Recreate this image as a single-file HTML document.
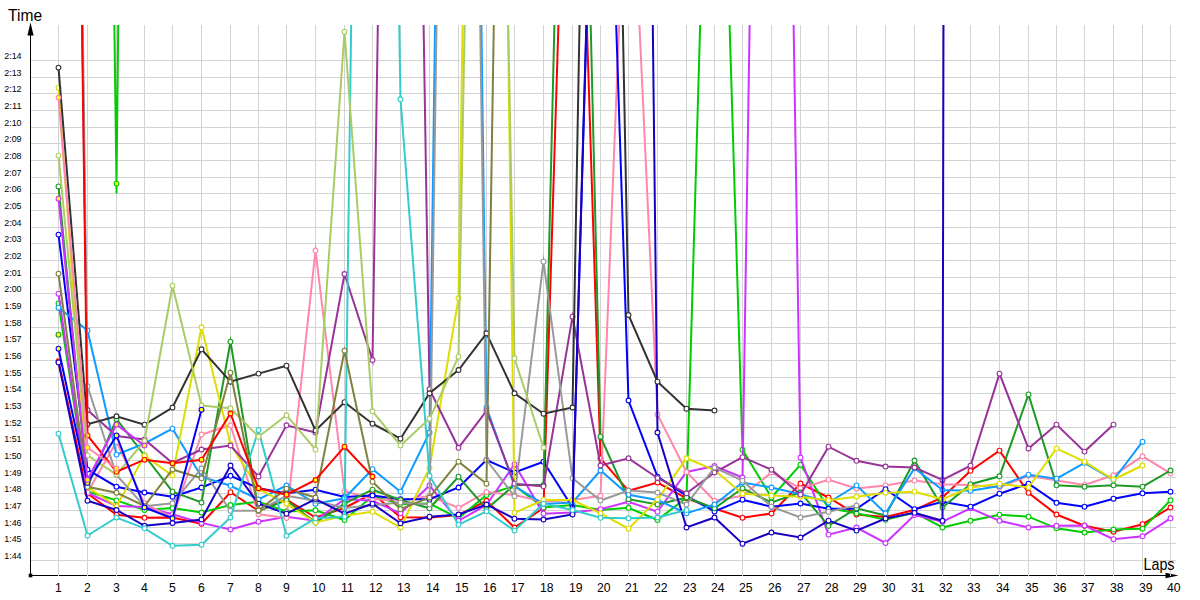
<!DOCTYPE html>
<html lang="en"><head><meta charset="utf-8"><title>Lap times</title>
<style>html,body{margin:0;padding:0;background:#fff;}body{width:1200px;height:600px;overflow:hidden;}svg{display:block;}text{font-family:"Liberation Sans","DejaVu Sans",sans-serif;fill:#000;}</style></head><body>
<svg width="1200" height="600" viewBox="0 0 1200 600">
<rect width="1200" height="600" fill="#fff"/>
<path d="M30.5 30.0V575.5" stroke="#000" stroke-width="1.0" fill="none"/>
<path d="M30.0 575.5H1170.0" stroke="#000" stroke-width="1.0" fill="none"/>
<path d="M30.5 22.6L33.6 35.6H27.4Z" fill="#000"/>
<path d="M1178.5 575.5L1165.5 578.2V572.8Z" fill="#000"/>
<rect x="28.7" y="573.7" width="3.6" height="3.6" fill="#000"/>
<path d="M58.50 25.0V576.0M87.50 25.0V576.0M116.50 25.0V576.0M144.50 25.0V576.0M172.50 25.0V576.0M201.50 25.0V576.0M230.50 25.0V576.0M258.50 25.0V576.0M286.50 25.0V576.0M315.50 25.0V576.0M344.50 25.0V576.0M372.50 25.0V576.0M400.50 25.0V576.0M429.50 25.0V576.0M458.50 25.0V576.0M486.50 25.0V576.0M514.50 25.0V576.0M543.50 25.0V576.0M572.50 25.0V576.0M600.50 25.0V576.0M628.50 25.0V576.0M657.50 25.0V576.0M686.50 25.0V576.0M714.50 25.0V576.0M742.50 25.0V576.0M771.50 25.0V576.0M800.50 25.0V576.0M828.50 25.0V576.0M856.50 25.0V576.0M885.50 25.0V576.0M914.50 25.0V576.0M942.50 25.0V576.0M970.50 25.0V576.0M999.50 25.0V576.0M1028.50 25.0V576.0M1056.50 25.0V576.0M1084.50 25.0V576.0M1113.50 25.0V576.0M1142.50 25.0V576.0M1170.50 25.0V576.0M31.0 60.5H1176.0M31.0 77.5H1176.0M31.0 93.5H1176.0M31.0 110.5H1176.0M31.0 127.5H1176.0M31.0 143.5H1176.0M31.0 160.5H1176.0M31.0 177.5H1176.0M31.0 193.5H1176.0M31.0 210.5H1176.0M31.0 227.5H1176.0M31.0 243.5H1176.0M31.0 260.5H1176.0M31.0 277.5H1176.0M31.0 293.5H1176.0M31.0 310.5H1176.0M31.0 327.5H1176.0M31.0 343.5H1176.0M31.0 360.5H1176.0M31.0 377.5H1176.0M31.0 393.5H1176.0M31.0 410.5H1176.0M31.0 427.5H1176.0M31.0 443.5H1176.0M31.0 460.5H1176.0M31.0 477.5H1176.0M31.0 493.5H1176.0M31.0 510.5H1176.0M31.0 527.5H1176.0M31.0 543.5H1176.0M31.0 560.5H1176.0" stroke="#d3d3d3" stroke-width="1" fill="none"/>
<defs><clipPath id="c"><rect x="30.0" y="25.0" width="1150.0" height="550.5"/></clipPath></defs>
<g clip-path="url(#c)" fill="none" stroke-linejoin="miter" stroke-miterlimit="10" stroke-linecap="butt">
<g stroke="#ff0000">
<polyline points="58.5,361.3 87.5,493.5 116.5,514.7 144.5,517.8 172.5,517.5 201.5,523.8 230.5,492.2 258.5,510.8 286.5,499.5 315.5,517.5 344.5,508.0 372.5,493.5 400.5,517.2 429.5,517.5 458.5,515.0 486.5,500.8 514.5,527.5 543.5,508.0 572.5,-430.0 600.5,458.3 628.5,490.8 657.5,482.5 686.5,498.3 714.5,508.5 742.5,517.7 771.5,513.5 800.5,483.5 828.5,497.5 856.5,514.5 885.5,517.0 914.5,510.0 942.5,497.5 970.5,470.8 999.5,450.6 1028.5,492.8 1056.5,514.5 1084.5,525.8 1113.5,531.7 1142.5,524.2 1170.5,507.5" stroke-width="2.0"/>
<g fill="#ffffff" stroke-width="1.1"><circle cx="58.5" cy="361.3" r="2.4"/><circle cx="87.5" cy="493.5" r="2.4"/><circle cx="116.5" cy="514.7" r="2.4"/><circle cx="144.5" cy="517.8" r="2.4"/><circle cx="172.5" cy="517.5" r="2.4"/><circle cx="201.5" cy="523.8" r="2.4"/><circle cx="230.5" cy="492.2" r="2.4"/><circle cx="258.5" cy="510.8" r="2.4"/><circle cx="286.5" cy="499.5" r="2.4"/><circle cx="315.5" cy="517.5" r="2.4"/><circle cx="344.5" cy="508.0" r="2.4"/><circle cx="372.5" cy="493.5" r="2.4"/><circle cx="400.5" cy="517.2" r="2.4"/><circle cx="429.5" cy="517.5" r="2.4"/><circle cx="458.5" cy="515.0" r="2.4"/><circle cx="486.5" cy="500.8" r="2.4"/><circle cx="514.5" cy="527.5" r="2.4"/><circle cx="543.5" cy="508.0" r="2.4"/><circle cx="600.5" cy="458.3" r="2.4"/><circle cx="628.5" cy="490.8" r="2.4"/><circle cx="657.5" cy="482.5" r="2.4"/><circle cx="686.5" cy="498.3" r="2.4"/><circle cx="714.5" cy="508.5" r="2.4"/><circle cx="742.5" cy="517.7" r="2.4"/><circle cx="771.5" cy="513.5" r="2.4"/><circle cx="800.5" cy="483.5" r="2.4"/><circle cx="828.5" cy="497.5" r="2.4"/><circle cx="856.5" cy="514.5" r="2.4"/><circle cx="885.5" cy="517.0" r="2.4"/><circle cx="914.5" cy="510.0" r="2.4"/><circle cx="942.5" cy="497.5" r="2.4"/><circle cx="970.5" cy="470.8" r="2.4"/><circle cx="999.5" cy="450.6" r="2.4"/><circle cx="1028.5" cy="492.8" r="2.4"/><circle cx="1056.5" cy="514.5" r="2.4"/><circle cx="1084.5" cy="525.8" r="2.4"/><circle cx="1113.5" cy="531.7" r="2.4"/><circle cx="1142.5" cy="524.2" r="2.4"/><circle cx="1170.5" cy="507.5" r="2.4"/></g>
</g>
<g stroke="#00cc00">
<polyline points="58.5,303.4 87.5,491.5 116.5,500.4 144.5,510.0 172.5,508.0 201.5,512.5 230.5,505.0 258.5,501.7 286.5,511.5 315.5,510.3 344.5,520.0 372.5,496.0 400.5,504.0 429.5,503.5 458.5,518.3 486.5,495.0 514.5,485.8 543.5,507.5 572.5,505.0 600.5,510.0 628.5,507.8 657.5,520.0 686.5,497.5 714.5,-472.0 742.5,449.7 771.5,497.5 800.5,464.7 828.5,508.0 856.5,513.3 885.5,519.8 914.5,512.5 942.5,527.5 970.5,520.8 999.5,514.7 1028.5,516.7 1056.5,528.3 1084.5,532.5 1113.5,529.5 1142.5,528.7 1170.5,500.3" stroke-width="2.0"/>
<g fill="#ffffff" stroke-width="1.1"><circle cx="58.5" cy="303.4" r="2.4"/><circle cx="87.5" cy="491.5" r="2.4"/><circle cx="116.5" cy="500.4" r="2.4"/><circle cx="144.5" cy="510.0" r="2.4"/><circle cx="172.5" cy="508.0" r="2.4"/><circle cx="201.5" cy="512.5" r="2.4"/><circle cx="230.5" cy="505.0" r="2.4"/><circle cx="258.5" cy="501.7" r="2.4"/><circle cx="286.5" cy="511.5" r="2.4"/><circle cx="315.5" cy="510.3" r="2.4"/><circle cx="344.5" cy="520.0" r="2.4"/><circle cx="372.5" cy="496.0" r="2.4"/><circle cx="400.5" cy="504.0" r="2.4"/><circle cx="429.5" cy="503.5" r="2.4"/><circle cx="458.5" cy="518.3" r="2.4"/><circle cx="486.5" cy="495.0" r="2.4"/><circle cx="514.5" cy="485.8" r="2.4"/><circle cx="543.5" cy="507.5" r="2.4"/><circle cx="572.5" cy="505.0" r="2.4"/><circle cx="600.5" cy="510.0" r="2.4"/><circle cx="628.5" cy="507.8" r="2.4"/><circle cx="657.5" cy="520.0" r="2.4"/><circle cx="686.5" cy="497.5" r="2.4"/><circle cx="742.5" cy="449.7" r="2.4"/><circle cx="771.5" cy="497.5" r="2.4"/><circle cx="800.5" cy="464.7" r="2.4"/><circle cx="828.5" cy="508.0" r="2.4"/><circle cx="856.5" cy="513.3" r="2.4"/><circle cx="885.5" cy="519.8" r="2.4"/><circle cx="914.5" cy="512.5" r="2.4"/><circle cx="942.5" cy="527.5" r="2.4"/><circle cx="970.5" cy="520.8" r="2.4"/><circle cx="999.5" cy="514.7" r="2.4"/><circle cx="1028.5" cy="516.7" r="2.4"/><circle cx="1056.5" cy="528.3" r="2.4"/><circle cx="1084.5" cy="532.5" r="2.4"/><circle cx="1113.5" cy="529.5" r="2.4"/><circle cx="1142.5" cy="528.7" r="2.4"/><circle cx="1170.5" cy="500.3" r="2.4"/></g>
</g>
<g stroke="#cc33ff">
<polyline points="58.5,293.7 87.5,493.0 116.5,506.0 144.5,507.0 172.5,514.2 201.5,522.9 230.5,529.5 258.5,521.7 286.5,516.7 315.5,520.8 344.5,499.0 372.5,500.8 400.5,513.3 429.5,485.5 458.5,520.8 486.5,505.0 514.5,464.2 543.5,513.7 572.5,512.5 600.5,509.2 628.5,501.7 657.5,511.7 686.5,472.0 714.5,466.0 742.5,477.5 771.5,-1365.0 800.5,457.5 828.5,534.6 856.5,527.5 885.5,543.0 914.5,515.0 942.5,521.7 970.5,508.3 999.5,520.8 1028.5,527.5 1056.5,525.8 1084.5,525.5 1113.5,539.2 1142.5,536.3 1170.5,518.3" stroke-width="2.0"/>
<g fill="#ffffff" stroke-width="1.1"><circle cx="58.5" cy="293.7" r="2.4"/><circle cx="87.5" cy="493.0" r="2.4"/><circle cx="116.5" cy="506.0" r="2.4"/><circle cx="144.5" cy="507.0" r="2.4"/><circle cx="172.5" cy="514.2" r="2.4"/><circle cx="201.5" cy="522.9" r="2.4"/><circle cx="230.5" cy="529.5" r="2.4"/><circle cx="258.5" cy="521.7" r="2.4"/><circle cx="286.5" cy="516.7" r="2.4"/><circle cx="315.5" cy="520.8" r="2.4"/><circle cx="344.5" cy="499.0" r="2.4"/><circle cx="372.5" cy="500.8" r="2.4"/><circle cx="400.5" cy="513.3" r="2.4"/><circle cx="429.5" cy="485.5" r="2.4"/><circle cx="458.5" cy="520.8" r="2.4"/><circle cx="486.5" cy="505.0" r="2.4"/><circle cx="514.5" cy="464.2" r="2.4"/><circle cx="543.5" cy="513.7" r="2.4"/><circle cx="572.5" cy="512.5" r="2.4"/><circle cx="600.5" cy="509.2" r="2.4"/><circle cx="628.5" cy="501.7" r="2.4"/><circle cx="657.5" cy="511.7" r="2.4"/><circle cx="686.5" cy="472.0" r="2.4"/><circle cx="714.5" cy="466.0" r="2.4"/><circle cx="742.5" cy="477.5" r="2.4"/><circle cx="800.5" cy="457.5" r="2.4"/><circle cx="828.5" cy="534.6" r="2.4"/><circle cx="856.5" cy="527.5" r="2.4"/><circle cx="885.5" cy="543.0" r="2.4"/><circle cx="914.5" cy="515.0" r="2.4"/><circle cx="942.5" cy="521.7" r="2.4"/><circle cx="970.5" cy="508.3" r="2.4"/><circle cx="999.5" cy="520.8" r="2.4"/><circle cx="1028.5" cy="527.5" r="2.4"/><circle cx="1056.5" cy="525.8" r="2.4"/><circle cx="1084.5" cy="525.5" r="2.4"/><circle cx="1113.5" cy="539.2" r="2.4"/><circle cx="1142.5" cy="536.3" r="2.4"/><circle cx="1170.5" cy="518.3" r="2.4"/></g>
</g>
<g stroke="#ff88aa">
<polyline points="87.5,492.5 116.5,441.7 144.5,503.3 172.5,518.0 201.5,434.5 230.5,425.3 258.5,514.2 286.5,518.0 315.5,250.5 344.5,491.3 372.5,499.0 400.5,500.8 429.5,495.8 458.5,507.8 486.5,492.0 514.5,495.0 543.5,501.7 572.5,500.0 600.5,495.8 628.5,-211.0 657.5,414.5 686.5,472.0 714.5,500.8 742.5,495.8 771.5,472.5 800.5,488.3 828.5,479.7 856.5,488.5 885.5,485.4 914.5,480.5 942.5,484.2 970.5,485.0 999.5,487.5 1028.5,475.8 1056.5,480.5 1084.5,485.0 1113.5,475.3 1142.5,456.3 1170.5,473.3" stroke-width="2.0"/>
<g fill="#ffffff" stroke-width="1.1"><circle cx="87.5" cy="492.5" r="2.4"/><circle cx="116.5" cy="441.7" r="2.4"/><circle cx="144.5" cy="503.3" r="2.4"/><circle cx="172.5" cy="518.0" r="2.4"/><circle cx="201.5" cy="434.5" r="2.4"/><circle cx="230.5" cy="425.3" r="2.4"/><circle cx="258.5" cy="514.2" r="2.4"/><circle cx="286.5" cy="518.0" r="2.4"/><circle cx="315.5" cy="250.5" r="2.4"/><circle cx="344.5" cy="491.3" r="2.4"/><circle cx="372.5" cy="499.0" r="2.4"/><circle cx="400.5" cy="500.8" r="2.4"/><circle cx="429.5" cy="495.8" r="2.4"/><circle cx="458.5" cy="507.8" r="2.4"/><circle cx="486.5" cy="492.0" r="2.4"/><circle cx="514.5" cy="495.0" r="2.4"/><circle cx="543.5" cy="501.7" r="2.4"/><circle cx="572.5" cy="500.0" r="2.4"/><circle cx="600.5" cy="495.8" r="2.4"/><circle cx="657.5" cy="414.5" r="2.4"/><circle cx="686.5" cy="472.0" r="2.4"/><circle cx="714.5" cy="500.8" r="2.4"/><circle cx="742.5" cy="495.8" r="2.4"/><circle cx="771.5" cy="472.5" r="2.4"/><circle cx="800.5" cy="488.3" r="2.4"/><circle cx="828.5" cy="479.7" r="2.4"/><circle cx="856.5" cy="488.5" r="2.4"/><circle cx="885.5" cy="485.4" r="2.4"/><circle cx="914.5" cy="480.5" r="2.4"/><circle cx="942.5" cy="484.2" r="2.4"/><circle cx="970.5" cy="485.0" r="2.4"/><circle cx="999.5" cy="487.5" r="2.4"/><circle cx="1028.5" cy="475.8" r="2.4"/><circle cx="1056.5" cy="480.5" r="2.4"/><circle cx="1084.5" cy="485.0" r="2.4"/><circle cx="1113.5" cy="475.3" r="2.4"/><circle cx="1142.5" cy="456.3" r="2.4"/><circle cx="1170.5" cy="473.3" r="2.4"/></g>
</g>
<g stroke="#0000ff">
<polyline points="58.5,234.6 87.5,469.6 116.5,486.7 144.5,492.5 172.5,496.7 201.5,487.5 230.5,475.8 258.5,488.3 286.5,493.3 315.5,489.7 344.5,497.0 372.5,495.5 400.5,499.2 429.5,499.2 458.5,487.5 486.5,460.0 514.5,472.5 543.5,461.7 572.5,507.5 600.5,-454.0 628.5,400.5 657.5,476.7 686.5,495.8 714.5,511.5 742.5,499.7 771.5,506.7 800.5,503.5 828.5,508.8 856.5,508.8 885.5,489.2 914.5,509.2 942.5,501.7 970.5,506.7 999.5,493.7 1028.5,483.7 1056.5,502.8 1084.5,506.7 1113.5,498.7 1142.5,493.3 1170.5,491.7" stroke-width="2.0"/>
<g fill="#ffffff" stroke-width="1.1"><circle cx="58.5" cy="234.6" r="2.4"/><circle cx="87.5" cy="469.6" r="2.4"/><circle cx="116.5" cy="486.7" r="2.4"/><circle cx="144.5" cy="492.5" r="2.4"/><circle cx="172.5" cy="496.7" r="2.4"/><circle cx="201.5" cy="487.5" r="2.4"/><circle cx="230.5" cy="475.8" r="2.4"/><circle cx="258.5" cy="488.3" r="2.4"/><circle cx="286.5" cy="493.3" r="2.4"/><circle cx="315.5" cy="489.7" r="2.4"/><circle cx="344.5" cy="497.0" r="2.4"/><circle cx="372.5" cy="495.5" r="2.4"/><circle cx="400.5" cy="499.2" r="2.4"/><circle cx="429.5" cy="499.2" r="2.4"/><circle cx="458.5" cy="487.5" r="2.4"/><circle cx="486.5" cy="460.0" r="2.4"/><circle cx="514.5" cy="472.5" r="2.4"/><circle cx="543.5" cy="461.7" r="2.4"/><circle cx="572.5" cy="507.5" r="2.4"/><circle cx="628.5" cy="400.5" r="2.4"/><circle cx="657.5" cy="476.7" r="2.4"/><circle cx="686.5" cy="495.8" r="2.4"/><circle cx="714.5" cy="511.5" r="2.4"/><circle cx="742.5" cy="499.7" r="2.4"/><circle cx="771.5" cy="506.7" r="2.4"/><circle cx="800.5" cy="503.5" r="2.4"/><circle cx="828.5" cy="508.8" r="2.4"/><circle cx="856.5" cy="508.8" r="2.4"/><circle cx="885.5" cy="489.2" r="2.4"/><circle cx="914.5" cy="509.2" r="2.4"/><circle cx="942.5" cy="501.7" r="2.4"/><circle cx="970.5" cy="506.7" r="2.4"/><circle cx="999.5" cy="493.7" r="2.4"/><circle cx="1028.5" cy="483.7" r="2.4"/><circle cx="1056.5" cy="502.8" r="2.4"/><circle cx="1084.5" cy="506.7" r="2.4"/><circle cx="1113.5" cy="498.7" r="2.4"/><circle cx="1142.5" cy="493.3" r="2.4"/><circle cx="1170.5" cy="491.7" r="2.4"/></g>
</g>
<g stroke="#1c9a24">
<polyline points="58.5,186.4 87.5,487.0 116.5,419.0 144.5,455.5 172.5,491.7 201.5,502.5 230.5,341.7 258.5,510.8 286.5,500.4 315.5,522.5 344.5,503.7 372.5,489.7 400.5,500.0 429.5,508.3 458.5,476.7 486.5,509.0 514.5,485.0 543.5,485.0 572.5,-740.0 600.5,436.7 628.5,499.2 657.5,504.5 686.5,497.5 714.5,508.3 742.5,488.3 771.5,502.5 800.5,492.5 828.5,525.8 856.5,508.3 885.5,515.5 914.5,460.5 942.5,507.5 970.5,484.2 999.5,476.3 1028.5,394.4 1056.5,485.3 1084.5,486.7 1113.5,485.3 1142.5,486.7 1170.5,470.5" stroke-width="2.0"/>
<g fill="#ffffff" stroke-width="1.1"><circle cx="58.5" cy="186.4" r="2.4"/><circle cx="87.5" cy="487.0" r="2.4"/><circle cx="116.5" cy="419.0" r="2.4"/><circle cx="144.5" cy="455.5" r="2.4"/><circle cx="172.5" cy="491.7" r="2.4"/><circle cx="201.5" cy="502.5" r="2.4"/><circle cx="230.5" cy="341.7" r="2.4"/><circle cx="258.5" cy="510.8" r="2.4"/><circle cx="286.5" cy="500.4" r="2.4"/><circle cx="315.5" cy="522.5" r="2.4"/><circle cx="344.5" cy="503.7" r="2.4"/><circle cx="372.5" cy="489.7" r="2.4"/><circle cx="400.5" cy="500.0" r="2.4"/><circle cx="429.5" cy="508.3" r="2.4"/><circle cx="458.5" cy="476.7" r="2.4"/><circle cx="486.5" cy="509.0" r="2.4"/><circle cx="514.5" cy="485.0" r="2.4"/><circle cx="543.5" cy="485.0" r="2.4"/><circle cx="600.5" cy="436.7" r="2.4"/><circle cx="628.5" cy="499.2" r="2.4"/><circle cx="657.5" cy="504.5" r="2.4"/><circle cx="686.5" cy="497.5" r="2.4"/><circle cx="714.5" cy="508.3" r="2.4"/><circle cx="742.5" cy="488.3" r="2.4"/><circle cx="771.5" cy="502.5" r="2.4"/><circle cx="800.5" cy="492.5" r="2.4"/><circle cx="828.5" cy="525.8" r="2.4"/><circle cx="856.5" cy="508.3" r="2.4"/><circle cx="885.5" cy="515.5" r="2.4"/><circle cx="914.5" cy="460.5" r="2.4"/><circle cx="942.5" cy="507.5" r="2.4"/><circle cx="970.5" cy="484.2" r="2.4"/><circle cx="999.5" cy="476.3" r="2.4"/><circle cx="1028.5" cy="394.4" r="2.4"/><circle cx="1056.5" cy="485.3" r="2.4"/><circle cx="1084.5" cy="486.7" r="2.4"/><circle cx="1113.5" cy="485.3" r="2.4"/><circle cx="1142.5" cy="486.7" r="2.4"/><circle cx="1170.5" cy="470.5" r="2.4"/></g>
</g>
<g stroke="#0f9bff">
<polyline points="58.5,307.7 87.5,330.4 116.5,454.6 144.5,443.5 172.5,428.7 201.5,476.7 230.5,485.8 258.5,499.5 286.5,485.5 315.5,503.7 344.5,498.3 372.5,469.2 400.5,491.7 429.5,432.5 458.5,-1700.0 486.5,407.5 514.5,486.0 543.5,504.0 572.5,502.5 600.5,470.5 628.5,494.7 657.5,500.0 686.5,513.3 714.5,504.5 742.5,482.5 771.5,487.5 800.5,494.2 828.5,502.5 856.5,485.4 885.5,513.3 914.5,468.3 942.5,490.0 970.5,490.8 999.5,486.0 1028.5,474.7 1056.5,478.7 1084.5,462.8 1113.5,480.0 1142.5,441.7" stroke-width="2.0"/>
<g fill="#ffffff" stroke-width="1.1"><circle cx="58.5" cy="307.7" r="2.4"/><circle cx="87.5" cy="330.4" r="2.4"/><circle cx="116.5" cy="454.6" r="2.4"/><circle cx="144.5" cy="443.5" r="2.4"/><circle cx="172.5" cy="428.7" r="2.4"/><circle cx="201.5" cy="476.7" r="2.4"/><circle cx="230.5" cy="485.8" r="2.4"/><circle cx="258.5" cy="499.5" r="2.4"/><circle cx="286.5" cy="485.5" r="2.4"/><circle cx="315.5" cy="503.7" r="2.4"/><circle cx="344.5" cy="498.3" r="2.4"/><circle cx="372.5" cy="469.2" r="2.4"/><circle cx="400.5" cy="491.7" r="2.4"/><circle cx="429.5" cy="432.5" r="2.4"/><circle cx="486.5" cy="407.5" r="2.4"/><circle cx="514.5" cy="486.0" r="2.4"/><circle cx="543.5" cy="504.0" r="2.4"/><circle cx="572.5" cy="502.5" r="2.4"/><circle cx="600.5" cy="470.5" r="2.4"/><circle cx="628.5" cy="494.7" r="2.4"/><circle cx="657.5" cy="500.0" r="2.4"/><circle cx="686.5" cy="513.3" r="2.4"/><circle cx="714.5" cy="504.5" r="2.4"/><circle cx="742.5" cy="482.5" r="2.4"/><circle cx="771.5" cy="487.5" r="2.4"/><circle cx="800.5" cy="494.2" r="2.4"/><circle cx="828.5" cy="502.5" r="2.4"/><circle cx="856.5" cy="485.4" r="2.4"/><circle cx="885.5" cy="513.3" r="2.4"/><circle cx="914.5" cy="468.3" r="2.4"/><circle cx="942.5" cy="490.0" r="2.4"/><circle cx="970.5" cy="490.8" r="2.4"/><circle cx="999.5" cy="486.0" r="2.4"/><circle cx="1028.5" cy="474.7" r="2.4"/><circle cx="1056.5" cy="478.7" r="2.4"/><circle cx="1084.5" cy="462.8" r="2.4"/><circle cx="1113.5" cy="480.0" r="2.4"/><circle cx="1142.5" cy="441.7" r="2.4"/></g>
</g>
<g stroke="#dddd00">
<polyline points="58.5,87.7 87.5,487.0 116.5,506.3 144.5,455.8 172.5,475.5 201.5,327.3 230.5,444.0 258.5,489.0 286.5,503.7 315.5,522.5 344.5,515.8 372.5,511.7 400.5,527.5 429.5,468.0 458.5,298.3 486.5,-1580.0 514.5,512.8 543.5,500.0 572.5,500.0 600.5,513.3 628.5,528.7 657.5,499.5 686.5,458.3 714.5,470.0 742.5,493.7 771.5,495.5 800.5,496.7 828.5,500.3 856.5,496.7 885.5,492.7 914.5,491.7 942.5,499.2 970.5,487.5 999.5,483.7 1028.5,487.5 1056.5,448.4 1084.5,461.7 1113.5,479.5 1142.5,465.5" stroke-width="2.0"/>
<g fill="#ffffff" stroke-width="1.1"><circle cx="58.5" cy="87.7" r="2.4"/><circle cx="87.5" cy="487.0" r="2.4"/><circle cx="116.5" cy="506.3" r="2.4"/><circle cx="144.5" cy="455.8" r="2.4"/><circle cx="172.5" cy="475.5" r="2.4"/><circle cx="201.5" cy="327.3" r="2.4"/><circle cx="230.5" cy="444.0" r="2.4"/><circle cx="258.5" cy="489.0" r="2.4"/><circle cx="286.5" cy="503.7" r="2.4"/><circle cx="315.5" cy="522.5" r="2.4"/><circle cx="344.5" cy="515.8" r="2.4"/><circle cx="372.5" cy="511.7" r="2.4"/><circle cx="400.5" cy="527.5" r="2.4"/><circle cx="429.5" cy="468.0" r="2.4"/><circle cx="458.5" cy="298.3" r="2.4"/><circle cx="514.5" cy="512.8" r="2.4"/><circle cx="543.5" cy="500.0" r="2.4"/><circle cx="572.5" cy="500.0" r="2.4"/><circle cx="600.5" cy="513.3" r="2.4"/><circle cx="628.5" cy="528.7" r="2.4"/><circle cx="657.5" cy="499.5" r="2.4"/><circle cx="686.5" cy="458.3" r="2.4"/><circle cx="714.5" cy="470.0" r="2.4"/><circle cx="742.5" cy="493.7" r="2.4"/><circle cx="771.5" cy="495.5" r="2.4"/><circle cx="800.5" cy="496.7" r="2.4"/><circle cx="828.5" cy="500.3" r="2.4"/><circle cx="856.5" cy="496.7" r="2.4"/><circle cx="885.5" cy="492.7" r="2.4"/><circle cx="914.5" cy="491.7" r="2.4"/><circle cx="942.5" cy="499.2" r="2.4"/><circle cx="970.5" cy="487.5" r="2.4"/><circle cx="999.5" cy="483.7" r="2.4"/><circle cx="1028.5" cy="487.5" r="2.4"/><circle cx="1056.5" cy="448.4" r="2.4"/><circle cx="1084.5" cy="461.7" r="2.4"/><circle cx="1113.5" cy="479.5" r="2.4"/><circle cx="1142.5" cy="465.5" r="2.4"/></g>
</g>
<g stroke="#993399">
<polyline points="58.5,-1737.0 87.5,410.0 116.5,436.0 144.5,439.5 172.5,463.0 201.5,449.5 230.5,445.5 258.5,476.5 286.5,425.3 315.5,432.5 344.5,274.0 372.5,360.0 400.5,-1400.0 429.5,389.2 458.5,447.8 486.5,410.8 514.5,483.7 543.5,486.3 572.5,316.7 600.5,465.5 628.5,458.3 657.5,478.0 686.5,493.3 714.5,472.5 742.5,457.2 771.5,469.7 800.5,494.6 828.5,446.7 856.5,460.8 885.5,466.5 914.5,467.5 942.5,480.0 970.5,465.7 999.5,373.6 1028.5,448.5 1056.5,424.6 1084.5,451.6 1113.5,424.6" stroke-width="2.0"/>
<g fill="#ffffff" stroke-width="1.1"><circle cx="87.5" cy="410.0" r="2.4"/><circle cx="116.5" cy="436.0" r="2.4"/><circle cx="144.5" cy="439.5" r="2.4"/><circle cx="172.5" cy="463.0" r="2.4"/><circle cx="201.5" cy="449.5" r="2.4"/><circle cx="230.5" cy="445.5" r="2.4"/><circle cx="258.5" cy="476.5" r="2.4"/><circle cx="286.5" cy="425.3" r="2.4"/><circle cx="315.5" cy="432.5" r="2.4"/><circle cx="344.5" cy="274.0" r="2.4"/><circle cx="372.5" cy="360.0" r="2.4"/><circle cx="429.5" cy="389.2" r="2.4"/><circle cx="458.5" cy="447.8" r="2.4"/><circle cx="486.5" cy="410.8" r="2.4"/><circle cx="514.5" cy="483.7" r="2.4"/><circle cx="543.5" cy="486.3" r="2.4"/><circle cx="572.5" cy="316.7" r="2.4"/><circle cx="600.5" cy="465.5" r="2.4"/><circle cx="628.5" cy="458.3" r="2.4"/><circle cx="657.5" cy="478.0" r="2.4"/><circle cx="686.5" cy="493.3" r="2.4"/><circle cx="714.5" cy="472.5" r="2.4"/><circle cx="742.5" cy="457.2" r="2.4"/><circle cx="771.5" cy="469.7" r="2.4"/><circle cx="800.5" cy="494.6" r="2.4"/><circle cx="828.5" cy="446.7" r="2.4"/><circle cx="856.5" cy="460.8" r="2.4"/><circle cx="885.5" cy="466.5" r="2.4"/><circle cx="914.5" cy="467.5" r="2.4"/><circle cx="942.5" cy="480.0" r="2.4"/><circle cx="970.5" cy="465.7" r="2.4"/><circle cx="999.5" cy="373.6" r="2.4"/><circle cx="1028.5" cy="448.5" r="2.4"/><circle cx="1056.5" cy="424.6" r="2.4"/><circle cx="1084.5" cy="451.6" r="2.4"/><circle cx="1113.5" cy="424.6" r="2.4"/></g>
</g>
<g stroke="#999999">
<polyline points="58.5,-1843.0 87.5,386.3 116.5,475.0 144.5,506.3 172.5,503.3 201.5,468.3 230.5,510.8 258.5,510.8 286.5,495.8 315.5,500.8 344.5,508.0 372.5,505.3 400.5,502.5 429.5,504.5 458.5,-1480.0 486.5,460.0 514.5,496.3 543.5,261.7 572.5,478.3 600.5,500.5 628.5,490.5 657.5,492.5 686.5,504.5 714.5,467.5 742.5,480.7 771.5,506.7 800.5,517.5 828.5,511.7 856.5,505.5" stroke-width="2.0"/>
<g fill="#ffffff" stroke-width="1.1"><circle cx="87.5" cy="386.3" r="2.4"/><circle cx="116.5" cy="475.0" r="2.4"/><circle cx="144.5" cy="506.3" r="2.4"/><circle cx="172.5" cy="503.3" r="2.4"/><circle cx="201.5" cy="468.3" r="2.4"/><circle cx="230.5" cy="510.8" r="2.4"/><circle cx="258.5" cy="510.8" r="2.4"/><circle cx="286.5" cy="495.8" r="2.4"/><circle cx="315.5" cy="500.8" r="2.4"/><circle cx="344.5" cy="508.0" r="2.4"/><circle cx="372.5" cy="505.3" r="2.4"/><circle cx="400.5" cy="502.5" r="2.4"/><circle cx="429.5" cy="504.5" r="2.4"/><circle cx="486.5" cy="460.0" r="2.4"/><circle cx="514.5" cy="496.3" r="2.4"/><circle cx="543.5" cy="261.7" r="2.4"/><circle cx="572.5" cy="478.3" r="2.4"/><circle cx="600.5" cy="500.5" r="2.4"/><circle cx="628.5" cy="490.5" r="2.4"/><circle cx="657.5" cy="492.5" r="2.4"/><circle cx="686.5" cy="504.5" r="2.4"/><circle cx="714.5" cy="467.5" r="2.4"/><circle cx="742.5" cy="480.7" r="2.4"/><circle cx="771.5" cy="506.7" r="2.4"/><circle cx="800.5" cy="517.5" r="2.4"/><circle cx="828.5" cy="511.7" r="2.4"/><circle cx="856.5" cy="505.5" r="2.4"/></g>
</g>
<g stroke="#1700c4">
<polyline points="58.5,362.4 87.5,500.7 116.5,510.0 144.5,525.8 172.5,523.0 201.5,519.5 230.5,465.5 258.5,503.7 286.5,513.7 315.5,499.0 344.5,513.7 372.5,503.7 400.5,523.3 429.5,516.7 458.5,514.5 486.5,504.5 514.5,518.7 543.5,519.5 572.5,514.5 600.5,-478.0 628.5,-2080.0 657.5,432.5 686.5,527.5 714.5,517.5 742.5,543.7 771.5,532.5 800.5,537.5 828.5,520.6 856.5,530.6 885.5,518.5 914.5,512.8 942.5,520.8 970.5,-13700.0" stroke-width="2.0"/>
<g fill="#ffffff" stroke-width="1.1"><circle cx="58.5" cy="362.4" r="2.4"/><circle cx="87.5" cy="500.7" r="2.4"/><circle cx="116.5" cy="510.0" r="2.4"/><circle cx="144.5" cy="525.8" r="2.4"/><circle cx="172.5" cy="523.0" r="2.4"/><circle cx="201.5" cy="519.5" r="2.4"/><circle cx="230.5" cy="465.5" r="2.4"/><circle cx="258.5" cy="503.7" r="2.4"/><circle cx="286.5" cy="513.7" r="2.4"/><circle cx="315.5" cy="499.0" r="2.4"/><circle cx="344.5" cy="513.7" r="2.4"/><circle cx="372.5" cy="503.7" r="2.4"/><circle cx="400.5" cy="523.3" r="2.4"/><circle cx="429.5" cy="516.7" r="2.4"/><circle cx="458.5" cy="514.5" r="2.4"/><circle cx="486.5" cy="504.5" r="2.4"/><circle cx="514.5" cy="518.7" r="2.4"/><circle cx="543.5" cy="519.5" r="2.4"/><circle cx="572.5" cy="514.5" r="2.4"/><circle cx="657.5" cy="432.5" r="2.4"/><circle cx="686.5" cy="527.5" r="2.4"/><circle cx="714.5" cy="517.5" r="2.4"/><circle cx="742.5" cy="543.7" r="2.4"/><circle cx="771.5" cy="532.5" r="2.4"/><circle cx="800.5" cy="537.5" r="2.4"/><circle cx="828.5" cy="520.6" r="2.4"/><circle cx="856.5" cy="530.6" r="2.4"/><circle cx="885.5" cy="518.5" r="2.4"/><circle cx="914.5" cy="512.8" r="2.4"/><circle cx="942.5" cy="520.8" r="2.4"/></g>
</g>
<g stroke="#333333">
<polyline points="58.5,67.6 87.5,424.3 116.5,416.3 144.5,424.7 172.5,407.5 201.5,349.3 230.5,381.7 258.5,373.6 286.5,365.7 315.5,430.5 344.5,402.2 372.5,423.7 400.5,438.7 429.5,393.3 458.5,370.0 486.5,333.3 514.5,393.3 543.5,413.7 572.5,407.5 600.5,-1120.0 628.5,315.0 657.5,381.7 686.5,408.7 714.5,410.5" stroke-width="2.0"/>
<g fill="#ffffff" stroke-width="1.1"><circle cx="58.5" cy="67.6" r="2.4"/><circle cx="87.5" cy="424.3" r="2.4"/><circle cx="116.5" cy="416.3" r="2.4"/><circle cx="144.5" cy="424.7" r="2.4"/><circle cx="172.5" cy="407.5" r="2.4"/><circle cx="201.5" cy="349.3" r="2.4"/><circle cx="230.5" cy="381.7" r="2.4"/><circle cx="258.5" cy="373.6" r="2.4"/><circle cx="286.5" cy="365.7" r="2.4"/><circle cx="315.5" cy="430.5" r="2.4"/><circle cx="344.5" cy="402.2" r="2.4"/><circle cx="372.5" cy="423.7" r="2.4"/><circle cx="400.5" cy="438.7" r="2.4"/><circle cx="429.5" cy="393.3" r="2.4"/><circle cx="458.5" cy="370.0" r="2.4"/><circle cx="486.5" cy="333.3" r="2.4"/><circle cx="514.5" cy="393.3" r="2.4"/><circle cx="543.5" cy="413.7" r="2.4"/><circle cx="572.5" cy="407.5" r="2.4"/><circle cx="628.5" cy="315.0" r="2.4"/><circle cx="657.5" cy="381.7" r="2.4"/><circle cx="686.5" cy="408.7" r="2.4"/><circle cx="714.5" cy="410.5" r="2.4"/></g>
</g>
<g stroke="#33cccc">
<polyline points="58.5,433.7 87.5,535.5 116.5,517.5 144.5,528.3 172.5,545.8 201.5,544.7 230.5,517.5 258.5,430.0 286.5,535.8 315.5,518.3 344.5,516.7 372.5,-1550.0 400.5,99.3 429.5,475.8 458.5,524.7 486.5,511.3 514.5,530.5 543.5,503.7 572.5,510.0 600.5,517.8 628.5,518.3 657.5,517.5 686.5,510.0" stroke-width="2.0"/>
<g fill="#ffffff" stroke-width="1.1"><circle cx="58.5" cy="433.7" r="2.4"/><circle cx="87.5" cy="535.5" r="2.4"/><circle cx="116.5" cy="517.5" r="2.4"/><circle cx="144.5" cy="528.3" r="2.4"/><circle cx="172.5" cy="545.8" r="2.4"/><circle cx="201.5" cy="544.7" r="2.4"/><circle cx="230.5" cy="517.5" r="2.4"/><circle cx="258.5" cy="430.0" r="2.4"/><circle cx="286.5" cy="535.8" r="2.4"/><circle cx="315.5" cy="518.3" r="2.4"/><circle cx="344.5" cy="516.7" r="2.4"/><circle cx="400.5" cy="99.3" r="2.4"/><circle cx="429.5" cy="475.8" r="2.4"/><circle cx="458.5" cy="524.7" r="2.4"/><circle cx="486.5" cy="511.3" r="2.4"/><circle cx="514.5" cy="530.5" r="2.4"/><circle cx="543.5" cy="503.7" r="2.4"/><circle cx="572.5" cy="510.0" r="2.4"/><circle cx="600.5" cy="517.8" r="2.4"/><circle cx="628.5" cy="518.3" r="2.4"/><circle cx="657.5" cy="517.5" r="2.4"/><circle cx="686.5" cy="510.0" r="2.4"/></g>
</g>
<g stroke="#aacc66">
<polyline points="58.5,155.6 87.5,455.4 116.5,474.6 144.5,441.0 172.5,285.7 201.5,405.5 230.5,408.3 258.5,436.7 286.5,415.3 315.5,449.5 344.5,31.7 372.5,411.3 400.5,445.5 429.5,418.7 458.5,356.7 486.5,-1143.0 514.5,358.3 543.5,447.5" stroke-width="2.0"/>
<g fill="#ffffff" stroke-width="1.1"><circle cx="58.5" cy="155.6" r="2.4"/><circle cx="87.5" cy="455.4" r="2.4"/><circle cx="116.5" cy="474.6" r="2.4"/><circle cx="144.5" cy="441.0" r="2.4"/><circle cx="172.5" cy="285.7" r="2.4"/><circle cx="201.5" cy="405.5" r="2.4"/><circle cx="230.5" cy="408.3" r="2.4"/><circle cx="258.5" cy="436.7" r="2.4"/><circle cx="286.5" cy="415.3" r="2.4"/><circle cx="315.5" cy="449.5" r="2.4"/><circle cx="344.5" cy="31.7" r="2.4"/><circle cx="372.5" cy="411.3" r="2.4"/><circle cx="400.5" cy="445.5" r="2.4"/><circle cx="429.5" cy="418.7" r="2.4"/><circle cx="458.5" cy="356.7" r="2.4"/><circle cx="514.5" cy="358.3" r="2.4"/><circle cx="543.5" cy="447.5" r="2.4"/></g>
</g>
<g stroke="#808040">
<polyline points="58.5,273.7 87.5,486.8 116.5,492.7 144.5,506.0 172.5,469.5 201.5,478.3 230.5,372.7 258.5,510.3 286.5,488.7 315.5,497.5 344.5,350.7 372.5,481.7 400.5,509.2 429.5,497.5 458.5,461.7 486.5,483.7 514.5,-1277.0" stroke-width="2.0"/>
<g fill="#ffffff" stroke-width="1.1"><circle cx="58.5" cy="273.7" r="2.4"/><circle cx="87.5" cy="486.8" r="2.4"/><circle cx="116.5" cy="492.7" r="2.4"/><circle cx="144.5" cy="506.0" r="2.4"/><circle cx="172.5" cy="469.5" r="2.4"/><circle cx="201.5" cy="478.3" r="2.4"/><circle cx="230.5" cy="372.7" r="2.4"/><circle cx="258.5" cy="510.3" r="2.4"/><circle cx="286.5" cy="488.7" r="2.4"/><circle cx="315.5" cy="497.5" r="2.4"/><circle cx="344.5" cy="350.7" r="2.4"/><circle cx="372.5" cy="481.7" r="2.4"/><circle cx="400.5" cy="509.2" r="2.4"/><circle cx="429.5" cy="497.5" r="2.4"/><circle cx="458.5" cy="461.7" r="2.4"/><circle cx="486.5" cy="483.7" r="2.4"/></g>
</g>
<g stroke="#ff0000">
<polyline points="58.5,-1729.0 87.5,435.4 116.5,471.7 144.5,459.7 172.5,463.3 201.5,459.7 230.5,413.5 258.5,488.3 286.5,494.7 315.5,480.0 344.5,446.7 372.5,476.5" stroke-width="2.0"/>
<g fill="#ffff00" stroke-width="1.1"><circle cx="87.5" cy="435.4" r="2.4"/><circle cx="116.5" cy="471.7" r="2.4"/><circle cx="144.5" cy="459.7" r="2.4"/><circle cx="172.5" cy="463.3" r="2.4"/><circle cx="201.5" cy="459.7" r="2.4"/><circle cx="230.5" cy="413.5" r="2.4"/><circle cx="258.5" cy="488.3" r="2.4"/><circle cx="286.5" cy="494.7" r="2.4"/><circle cx="315.5" cy="480.0" r="2.4"/><circle cx="344.5" cy="446.7" r="2.4"/><circle cx="372.5" cy="476.5" r="2.4"/></g>
</g>
<g stroke="#0000ff">
<polyline points="58.5,348.7 87.5,482.9 116.5,435.4 144.5,507.5 172.5,518.3 201.5,409.7" stroke-width="2.0"/>
<g fill="#ffff00" stroke-width="1.1"><circle cx="58.5" cy="348.7" r="2.4"/><circle cx="87.5" cy="482.9" r="2.4"/><circle cx="116.5" cy="435.4" r="2.4"/><circle cx="144.5" cy="507.5" r="2.4"/><circle cx="172.5" cy="518.3" r="2.4"/><circle cx="201.5" cy="409.7" r="2.4"/></g>
</g>
<g stroke="#cc33ff">
<polyline points="58.5,198.7 87.5,479.8 116.5,424.6 144.5,445.5" stroke-width="2.0"/>
<g fill="#ffff00" stroke-width="1.1"><circle cx="58.5" cy="198.7" r="2.4"/><circle cx="87.5" cy="479.8" r="2.4"/><circle cx="116.5" cy="424.6" r="2.4"/><circle cx="144.5" cy="445.5" r="2.4"/></g>
</g>
<g stroke="#ff88aa">
<polyline points="58.5,97.6 87.5,447.5 116.5,468.5" stroke-width="2.0"/>
<g fill="#ffff00" stroke-width="1.1"><circle cx="58.5" cy="97.6" r="2.4"/><circle cx="87.5" cy="447.5" r="2.4"/><circle cx="116.5" cy="468.5" r="2.4"/></g>
</g>
<g stroke="#00cc00">
<path d="M113.9 -10L116.5 183.6L118.6 -10" stroke-width="2.0"/>
<path d="M116.5 183.6V193.5" stroke-width="2.0"/>
<g fill="#ffff00" stroke-width="1.1"><circle cx="116.5" cy="183.6" r="2.4"/></g>
</g>
<g stroke="#1c9a24">
<g fill="#ffff00" stroke-width="1.1"><circle cx="58.5" cy="334.7" r="2.4"/></g>
</g>
</g>
<text x="8" y="20.5" font-size="15.6">Time</text>
<text x="1143.5" y="569.8" font-size="16" textLength="31" lengthAdjust="spacingAndGlyphs">Laps</text>
<text x="4.2" y="59.2" font-size="9.8" textLength="17.4" lengthAdjust="spacingAndGlyphs">2:14</text>
<text x="4.2" y="76.2" font-size="9.8" textLength="17.4" lengthAdjust="spacingAndGlyphs">2:13</text>
<text x="4.2" y="92.2" font-size="9.8" textLength="17.4" lengthAdjust="spacingAndGlyphs">2:12</text>
<text x="4.2" y="109.2" font-size="9.8" textLength="17.4" lengthAdjust="spacingAndGlyphs">2:11</text>
<text x="4.2" y="126.2" font-size="9.8" textLength="17.4" lengthAdjust="spacingAndGlyphs">2:10</text>
<text x="4.2" y="142.2" font-size="9.8" textLength="17.4" lengthAdjust="spacingAndGlyphs">2:09</text>
<text x="4.2" y="159.2" font-size="9.8" textLength="17.4" lengthAdjust="spacingAndGlyphs">2:08</text>
<text x="4.2" y="176.2" font-size="9.8" textLength="17.4" lengthAdjust="spacingAndGlyphs">2:07</text>
<text x="4.2" y="192.2" font-size="9.8" textLength="17.4" lengthAdjust="spacingAndGlyphs">2:06</text>
<text x="4.2" y="209.2" font-size="9.8" textLength="17.4" lengthAdjust="spacingAndGlyphs">2:05</text>
<text x="4.2" y="226.2" font-size="9.8" textLength="17.4" lengthAdjust="spacingAndGlyphs">2:04</text>
<text x="4.2" y="242.2" font-size="9.8" textLength="17.4" lengthAdjust="spacingAndGlyphs">2:03</text>
<text x="4.2" y="259.2" font-size="9.8" textLength="17.4" lengthAdjust="spacingAndGlyphs">2:02</text>
<text x="4.2" y="276.2" font-size="9.8" textLength="17.4" lengthAdjust="spacingAndGlyphs">2:01</text>
<text x="4.2" y="292.2" font-size="9.8" textLength="17.4" lengthAdjust="spacingAndGlyphs">2:00</text>
<text x="4.2" y="309.2" font-size="9.8" textLength="17.4" lengthAdjust="spacingAndGlyphs">1:59</text>
<text x="4.2" y="326.2" font-size="9.8" textLength="17.4" lengthAdjust="spacingAndGlyphs">1:58</text>
<text x="4.2" y="342.2" font-size="9.8" textLength="17.4" lengthAdjust="spacingAndGlyphs">1:57</text>
<text x="4.2" y="359.2" font-size="9.8" textLength="17.4" lengthAdjust="spacingAndGlyphs">1:56</text>
<text x="4.2" y="376.2" font-size="9.8" textLength="17.4" lengthAdjust="spacingAndGlyphs">1:55</text>
<text x="4.2" y="392.2" font-size="9.8" textLength="17.4" lengthAdjust="spacingAndGlyphs">1:54</text>
<text x="4.2" y="409.2" font-size="9.8" textLength="17.4" lengthAdjust="spacingAndGlyphs">1:53</text>
<text x="4.2" y="426.2" font-size="9.8" textLength="17.4" lengthAdjust="spacingAndGlyphs">1:52</text>
<text x="4.2" y="442.2" font-size="9.8" textLength="17.4" lengthAdjust="spacingAndGlyphs">1:51</text>
<text x="4.2" y="459.2" font-size="9.8" textLength="17.4" lengthAdjust="spacingAndGlyphs">1:50</text>
<text x="4.2" y="476.2" font-size="9.8" textLength="17.4" lengthAdjust="spacingAndGlyphs">1:49</text>
<text x="4.2" y="492.2" font-size="9.8" textLength="17.4" lengthAdjust="spacingAndGlyphs">1:48</text>
<text x="4.2" y="509.2" font-size="9.8" textLength="17.4" lengthAdjust="spacingAndGlyphs">1:47</text>
<text x="4.2" y="526.2" font-size="9.8" textLength="17.4" lengthAdjust="spacingAndGlyphs">1:46</text>
<text x="4.2" y="542.2" font-size="9.8" textLength="17.4" lengthAdjust="spacingAndGlyphs">1:45</text>
<text x="4.2" y="559.2" font-size="9.8" textLength="17.4" lengthAdjust="spacingAndGlyphs">1:44</text>
<text x="55.1" y="592" font-size="12.2">1</text>
<text x="84.1" y="592" font-size="12.2">2</text>
<text x="113.1" y="592" font-size="12.2">3</text>
<text x="141.1" y="592" font-size="12.2">4</text>
<text x="169.1" y="592" font-size="12.2">5</text>
<text x="198.1" y="592" font-size="12.2">6</text>
<text x="227.1" y="592" font-size="12.2">7</text>
<text x="255.1" y="592" font-size="12.2">8</text>
<text x="283.1" y="592" font-size="12.2">9</text>
<text x="312.1" y="592" font-size="12.2">10</text>
<text x="341.1" y="592" font-size="12.2">11</text>
<text x="369.1" y="592" font-size="12.2">12</text>
<text x="397.1" y="592" font-size="12.2">13</text>
<text x="426.1" y="592" font-size="12.2">14</text>
<text x="455.1" y="592" font-size="12.2">15</text>
<text x="483.1" y="592" font-size="12.2">16</text>
<text x="511.1" y="592" font-size="12.2">17</text>
<text x="540.1" y="592" font-size="12.2">18</text>
<text x="569.1" y="592" font-size="12.2">19</text>
<text x="597.1" y="592" font-size="12.2">20</text>
<text x="625.1" y="592" font-size="12.2">21</text>
<text x="654.1" y="592" font-size="12.2">22</text>
<text x="683.1" y="592" font-size="12.2">23</text>
<text x="711.1" y="592" font-size="12.2">24</text>
<text x="739.1" y="592" font-size="12.2">25</text>
<text x="768.1" y="592" font-size="12.2">26</text>
<text x="797.1" y="592" font-size="12.2">27</text>
<text x="825.1" y="592" font-size="12.2">28</text>
<text x="853.1" y="592" font-size="12.2">29</text>
<text x="882.1" y="592" font-size="12.2">30</text>
<text x="911.1" y="592" font-size="12.2">31</text>
<text x="939.1" y="592" font-size="12.2">32</text>
<text x="967.1" y="592" font-size="12.2">33</text>
<text x="996.1" y="592" font-size="12.2">34</text>
<text x="1025.1" y="592" font-size="12.2">35</text>
<text x="1053.1" y="592" font-size="12.2">36</text>
<text x="1081.1" y="592" font-size="12.2">37</text>
<text x="1110.1" y="592" font-size="12.2">38</text>
<text x="1139.1" y="592" font-size="12.2">39</text>
<text x="1167.1" y="592" font-size="12.2">40</text>
</svg></body></html>
